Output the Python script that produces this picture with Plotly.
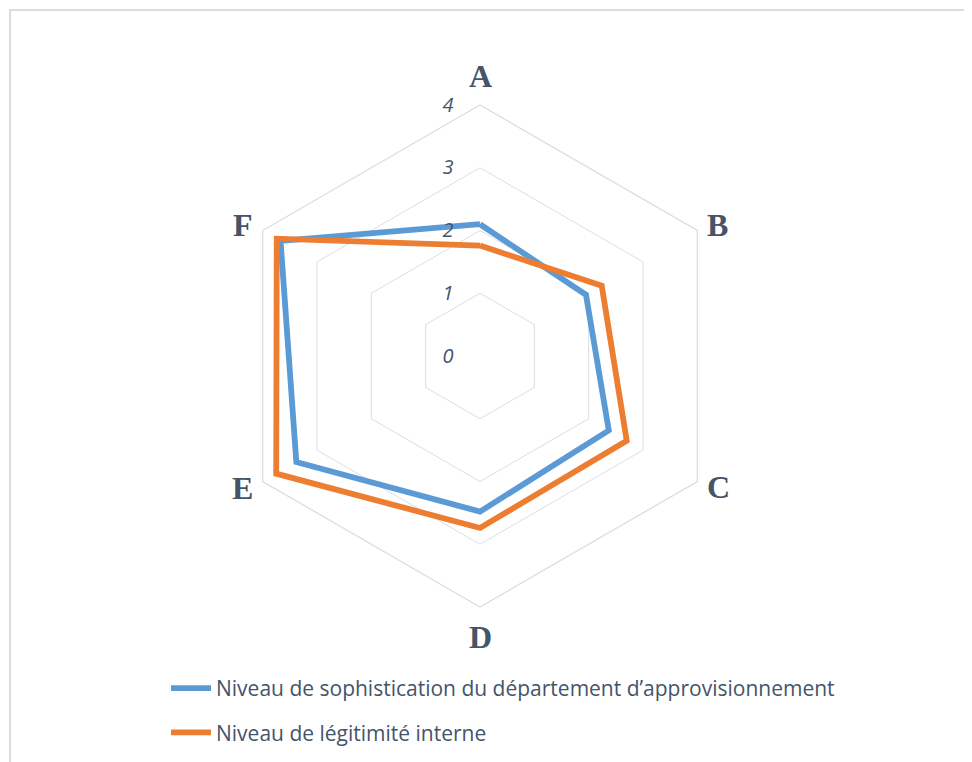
import math
import plotly.graph_objects as go

categories = ["A", "B", "C", "D", "E", "F"]
sophistication = [2.1, 1.95, 2.37, 2.48, 3.38, 3.67]
legitimite = [1.76, 2.24, 2.7, 2.74, 3.75, 3.74]
series_names = ["Niveau de sophistication du département d’approvisionnement",
                "Niveau de légitimité interne"]
series_colors = ["#5B9BD5", "#ED7D31"]
radial_ticks = [0, 1, 2, 3, 4]

W, H = 972, 762
OFF = 8  # page body margin
FW, FH = W - OFF, H - OFF
GRID = "#D9DEE5"
TXT = "#44546A"


def px(x):
    return (x - OFF) / FW


def py(y):
    return 1 - (y - OFF) / FH


fig = go.Figure()
for i, (name, vals, col) in enumerate(zip(series_names, [sophistication, legitimite], series_colors)):
    fig.add_trace(go.Scatterpolar(
        r=vals + vals[:1], theta=categories + categories[:1],
        mode="lines", name=name, legendgroup=f"g{i}",
        line=dict(color=col, width=5.8, shape="linear"),
        hoverinfo="skip",
    ))

cx, cy, R = 480, 356, 251

# category labels placed just outside the outer polygon vertices
annotations = []
pad = 12
n = len(categories)
for k, cat in enumerate(categories):
    ang = 2 * math.pi * k / n
    sx, sy = math.sin(ang), -math.cos(ang)
    lx, ly = cx + (R + pad) * sx, cy + (R + pad) * sy
    if sx > 0.1:
        xa, xs = "left", -2.5
    elif sx < -0.1:
        xa, xs = "right", 2.5
    else:
        xa, xs = "center", 0
    if sy < -0.9:
        ya, ys = "bottom", -3
    elif sy > 0.9:
        ya, ys = "top", 2
    else:
        ya, ys = "middle", 0
    annotations.append(dict(
        text=cat, x=px(lx), y=py(ly), xref="paper", yref="paper",
        xanchor=xa, yanchor=ya, showarrow=False, xshift=xs, yshift=ys,
        font=dict(family="Liberation Serif", size=32, color=TXT, weight="bold"),
    ))

fig.update_layout(
    width=FW, height=FH,
    margin=dict(l=0, r=0, t=0, b=0),
    paper_bgcolor="white", plot_bgcolor="white",
    polar=dict(
        domain=dict(x=[px(cx - R), px(cx + R)], y=[py(cy + R), py(cy - R)]),
        gridshape="linear",
        bgcolor="white",
        radialaxis=dict(
            range=[0, 4], tickvals=radial_ticks, ticktext=[str(v) for v in radial_ticks],
            angle=90, side="counterclockwise", showline=False,
            showgrid=True, gridcolor=GRID, gridwidth=1.3,
            ticks="outside", ticklen=19, tickcolor="rgba(0,0,0,0)",
            tickangle=90,
            tickfont=dict(family="Open Sans", size=20, color=TXT, style="italic"),
        ),
        angularaxis=dict(
            direction="clockwise", rotation=90, categoryarray=categories,
            showgrid=False, showline=True, linecolor=GRID, linewidth=1.3,
            ticks="", showticklabels=False,
        ),
    ),
    annotations=annotations,
    showlegend=True,
    legend=dict(
        orientation="v", x=px(166), xanchor="left", y=py(668), yanchor="top",
        font=dict(family="Open Sans", size=21, color=TXT),
        tracegroupgap=14, itemwidth=40, bgcolor="rgba(0,0,0,0)",
    ),
    shapes=[dict(type="rect", xref="paper", yref="paper",
                 x0=px(10), x1=1.02, y0=-0.02, y1=py(10),
                 line=dict(color="#D9DDE3", width=2), layer="below")],
)

fig.write_html("out.html")
